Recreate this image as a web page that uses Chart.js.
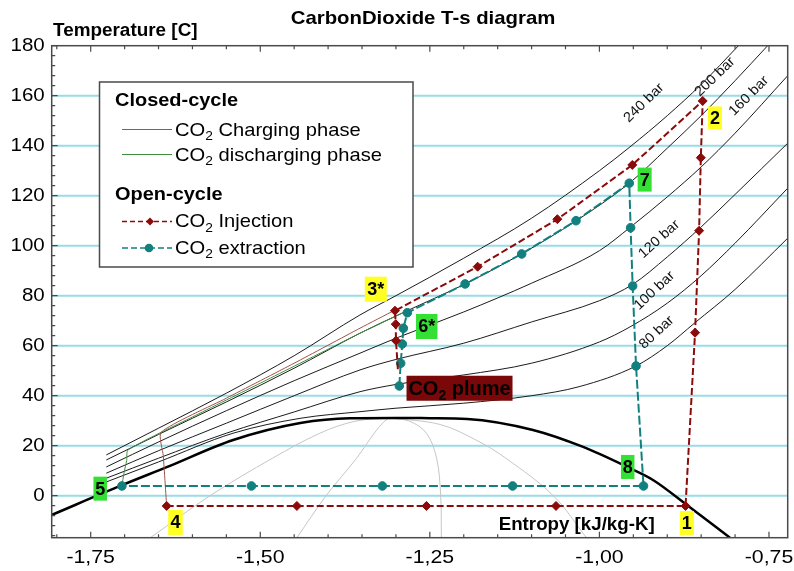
<!DOCTYPE html>
<html>
<head>
<meta charset="utf-8">
<title>CarbonDioxide T-s diagram</title>
<script src="https://cdn.jsdelivr.net/npm/chart.js@4.4.1/dist/chart.umd.min.js"></script>
<style>
  html, body { margin: 0; padding: 0; background: #ffffff; }
  canvas { display: block; }
</style>
</head>
<body>
<canvas id="ts" width="794" height="571" style="width:794px;height:571px"></canvas>
<script>
// ---- Axis ticks ----
const xTickValues = [-1.75, -1.50, -1.25, -1.00, -0.75];
const xTickLabels = ['-1,75', '-1,50', '-1,25', '-1,00', '-0,75'];
const yTickValues = [0, 20, 40, 60, 80, 100, 120, 140, 160, 180];
const yTickLabels = ['0', '20', '40', '60', '80', '100', '120', '140', '160', '180'];

// ---- Saturation dome (entropy kJ/kg-K, temperature C) ----
const domeS = [-1.8075, -1.704, -1.638, -1.540, -1.441, -1.368, -1.30, -1.25, -1.195, -1.098, -1.024, -0.959, -0.921, -0.871, -0.8075];
const domeT = [-7.7, 4.2, 11.4, 22.3, 29.1, 31.0, 31.1, 31.0, 30.7, 26.3, 19.5, 11.5, 6.3, -3.7, -16.8];

// ---- Constant quality lines inside the dome ----
const quality1S = [-1.662, -1.574, -1.482, -1.412, -1.36, -1.31];
const quality1T = [-16.8, 0, 15, 25, 29.8, 31.1];
const quality2S = [-1.446, -1.403, -1.358, -1.332, -1.318, -1.31];
const quality2T = [-16.8, 0, 15, 25, 29.5, 31.1];
const quality3S = [-1.233, -1.234, -1.240, -1.255, -1.280, -1.31];
const quality3T = [-16.8, 0, 15, 25, 29.8, 31.1];
const quality4S = [-1.019, -1.068, -1.138, -1.18, -1.235, -1.31];
const quality4T = [-16.8, 0, 15, 22, 28.5, 31.1];

// ---- Isobars ----
const isobarNames = ['240 bar', '200 bar', '160 bar', '120 bar', '100 bar', '80 bar'];
const isobar240S = [-1.727, -1.65, -1.55, -1.45, -1.353, -1.30, -1.20, -1.10, -1.00, -0.955, -0.90, -0.85, -0.795];
const isobar240T = [16.3, 27, 41, 56, 72.3, 80, 95, 111, 130, 139.5, 152, 164.5, 180];
const isobar200S = [-1.727, -1.65, -1.55, -1.45, -1.353, -1.288, -1.198, -1.115, -1.034, -0.956, -0.90, -0.85, -0.80, -0.752];
const isobar200T = [14.3, 24.5, 37.5, 51, 65, 73.4, 84.7, 96.7, 110, 125, 139, 152, 166, 180];
const isobar160S = [-1.727, -1.65, -1.55, -1.45, -1.353, -1.30, -1.20, -1.10, -1.00, -0.954, -0.90, -0.85, -0.80, -0.7224];
const isobar160T = [11.5, 21.5, 34, 46, 57, 63, 73.5, 85, 98, 107.5, 119.5, 131.5, 145, 168];
const isobar120S = [-1.727, -1.65, -1.55, -1.45, -1.353, -1.30, -1.20, -1.10, -1.00, -0.951, -0.90, -0.85, -0.80, -0.7224];
const isobar120T = [9, 18, 29, 40, 50.3, 54.5, 61, 69.5, 78, 84.5, 95.5, 107.5, 120.5, 141];
const isobar100S = [-1.727, -1.65, -1.55, -1.45, -1.353, -1.30, -1.25, -1.20, -1.10, -1.00, -0.955, -0.90, -0.85, -0.80, -0.7224];
const isobar100T = [7, 15, 25, 33.5, 41.6, 44.5, 46.5, 48.3, 53, 61.5, 67.5, 77, 88, 101, 123];
const isobar80S = [-1.727, -1.65, -1.54, -1.44, -1.353, -1.30, -1.20, -1.10, -1.03, -0.946, -0.90, -0.86, -0.80, -0.7224];
const isobar80T = [5.5, 13.5, 25, 31, 33.6, 35, 37, 40, 43.6, 51.9, 60, 69, 82.5, 103];

// ---- Closed cycle ----
const chargingS = [-1.638, -1.6405, -1.643, -1.646, -1.55, -1.45, -1.353, -1.301];
const chargingT = [-4.1, 6, 16, 25.4, 39, 53, 67, 74.3];
const dischargingS = [-1.704, -1.701, -1.697, -1.695, -1.60, -1.50, -1.40, -1.353, -1.288];
const dischargingT = [3.9, 9, 14, 18.3, 31.5, 45, 58.6, 65, 73.4];

// ---- Open cycle: 4 -> 1 -> 2 -> 3* -> plume ----
const injectionS = [-1.638, -1.446, -1.255, -1.064, -0.873, -0.859, -0.853, -0.8505, -0.8477, -0.9515, -1.062, -1.1795, -1.3014, -1.3003, -1.2999, -1.297];
const injectionT = [-4.1, -4.1, -4.1, -4.1, -4.1, 65.2, 106, 135.2, 157.9, 132.3, 110.6, 91.6, 74.0, 68.6, 62.0, 50];
// ---- Open cycle: plume -> 6* -> 7 -> 8 -> 5 ----
const extractionS = [-1.295, -1.293, -1.2906, -1.2891, -1.2832, -1.198, -1.1146, -1.0345, -0.956, -0.954, -0.951, -0.946, -0.935, -1.128, -1.320, -1.513, -1.704];
const extractionT = [43.9, 53, 60.7, 67, 73.2, 84.7, 96.7, 110, 125, 107.2, 83.9, 51.9, 3.9, 3.9, 3.9, 3.9, 3.9];

// ---- State point names ----
const stateNames = ['1', '2', '3*', '4', '5', '6*', '7', '8', 'CO₂ plume'];
const legendHeadings = ['Closed-cycle', 'Open-cycle'];
const legendNames = ['CO₂ Charging phase', 'CO₂ discharging phase', 'CO₂ Injection', 'CO₂ extraction'];

// ---- Styling ----
const RED = '#8b0a0a';
const TEAL = '#11807e';
const BROWN = '#a0524a';
const GREEN = '#3f8f3f';
const GRID = '#98dde5';
const FRAME = '#4a4a4a';
const YELLOW = '#ffff22';
const LIME = '#33e033';
const PLUME = '#7a0808';
const FONT = '"Liberation Sans", Arial, Helvetica, sans-serif';

const pts = (S, T) => S.map((s, i) => ({ x: s, y: T[i] }));

// where each state label sits: dataset point it refers to, offset of the box centre, box size, fill
const statePlacement = [
  { src: 'inj', i: 4, dx: 1.3, dy: 17, w: 14, h: 24, fill: YELLOW },
  { src: 'inj', i: 8, dx: 12.3, dy: 17, w: 14, h: 23, fill: YELLOW },
  { src: 'inj', i: 12, dx: -19.2, dy: -21.5, w: 22, h: 25, fill: YELLOW },
  { src: 'inj', i: 0, dx: 8.8, dy: 16.5, w: 14.5, h: 25, fill: YELLOW },
  { src: 'ext', i: 16, dx: -21.7, dy: 2.7, w: 13.5, h: 24, fill: LIME },
  { src: 'ext', i: 4, dx: 19.4, dy: 13.8, w: 21.5, h: 25, fill: LIME },
  { src: 'ext', i: 8, dx: 15.4, dy: -3.6, w: 14, h: 24, fill: LIME },
  { src: 'ext', i: 12, dx: -15.8, dy: -19, w: 13.5, h: 24, fill: LIME },
  { src: 'ext', i: 0, dx: 60.2, dy: 2.3, w: 106, h: 25, fill: PLUME, size: 20 }
];

// isobar captions, placed in data coordinates, rotated along the curves
const isobarCaptionAt = [
  { s: -0.9343, t: 157.1, rot: -44 },
  { s: -0.8296, t: 167.5, rot: -44 },
  { s: -0.7795, t: 159.9, rot: -45 },
  { s: -0.9119, t: 102.6, rot: -42 },
  { s: -0.9188, t: 82.0, rot: -43 },
  { s: -0.9156, t: 65.3, rot: -43 }
];

// text with optional horizontal stretch and CO₂ subscript handling
function drawText(ctx, str, x, y, o) {
  const font = sz => (o.bold ? 'bold ' : '') + sz + 'px ' + FONT;
  const size = o.size || 18;
  const subSize = Math.round(size * 0.68);
  const parts = str.split('₂');
  const segs = [];
  let w = 0;
  ctx.save();
  parts.forEach((p, k) => {
    ctx.font = font(size);
    const pw = ctx.measureText(p).width;
    segs.push({ t: p, sz: size, dy: 0, w: pw });
    w += pw;
    if (k < parts.length - 1) {
      ctx.font = font(subSize);
      const sw = ctx.measureText('2').width;
      segs.push({ t: '2', sz: subSize, dy: size * 0.32, w: sw });
      w += sw;
    }
  });
  ctx.translate(x, y);
  if (o.rot) ctx.rotate(o.rot * Math.PI / 180);
  ctx.scale(o.sx || 1, 1);
  let cx = o.align === 'center' ? -w / 2 : (o.align === 'right' ? -w : 0);
  ctx.fillStyle = o.color || '#000';
  ctx.textAlign = 'left';
  ctx.textBaseline = 'middle';
  for (const s of segs) {
    ctx.font = font(s.sz);
    ctx.fillText(s.t, cx, s.dy);
    cx += s.w;
  }
  ctx.restore();
}

function diamond(ctx, x, y, r, color) {
  ctx.save();
  ctx.fillStyle = color;
  ctx.beginPath();
  ctx.moveTo(x, y - r); ctx.lineTo(x + r, y); ctx.lineTo(x, y + r); ctx.lineTo(x - r, y);
  ctx.closePath(); ctx.fill();
  ctx.restore();
}

function dot(ctx, x, y, r, color) {
  ctx.save();
  ctx.fillStyle = color;
  ctx.beginPath(); ctx.arc(x, y, r, 0, Math.PI * 2); ctx.fill();
  ctx.restore();
}

function hline(ctx, x0, x1, y, color, width, dash) {
  ctx.save();
  ctx.strokeStyle = color; ctx.lineWidth = width; ctx.setLineDash(dash || []);
  ctx.beginPath(); ctx.moveTo(x0, y); ctx.lineTo(x1, y); ctx.stroke();
  ctx.restore();
}

const tsDecor = {
  id: 'tsDecor',
  beforeDatasetsDraw(chart) {
    const { ctx, chartArea: a, scales: { y } } = chart;
    for (const v of yTickValues) {
      if (v >= y.max) continue;
      hline(ctx, a.left, a.right, y.getPixelForValue(v), GRID, 2);
    }
  },
  afterDatasetsDraw(chart) {
    const { ctx, chartArea: a, scales: { x, y } } = chart;

    // isobar captions
    isobarNames.forEach((name, k) => {
      const c = isobarCaptionAt[k];
      drawText(ctx, name, x.getPixelForValue(c.s), y.getPixelForValue(c.t),
        { size: 14, sx: 1.05, align: 'center', rot: c.rot, color: '#111' });
    });

    // frame
    ctx.save();
    ctx.strokeStyle = FRAME;
    ctx.lineWidth = 1.5;
    ctx.strokeRect(a.left, a.top, a.right - a.left, a.bottom - a.top);

    // tick marks pointing into the plot
    ctx.lineWidth = 1.2;
    ctx.beginPath();
    for (let k = 0; k <= 21; k++) {
      const v = -1.80 + k * 0.05;
      if (v < x.min || v > x.max) continue;
      const px = x.getPixelForValue(v);
      const major = Math.abs(Math.round(v * 4) - v * 4) < 1e-6;
      const len = major ? 6 : 3.5;
      ctx.moveTo(px, a.bottom); ctx.lineTo(px, a.bottom - len);
      ctx.moveTo(px, a.top); ctx.lineTo(px, a.top + len);
    }
    for (let v = -16; v <= 180; v += 4) {
      const py = y.getPixelForValue(v);
      const len = v % 20 === 0 ? 6 : 3.5;
      ctx.moveTo(a.left, py); ctx.lineTo(a.left + len, py);
    }
    ctx.stroke();
    ctx.restore();

    // tick labels
    yTickValues.forEach((v, k) => {
      drawText(ctx, yTickLabels[k], a.left - 7, y.getPixelForValue(v), { size: 19, sx: 1.08, align: 'right' });
    });
    xTickValues.forEach((v, k) => {
      drawText(ctx, xTickLabels[k], x.getPixelForValue(v), a.bottom + 20.5, { size: 19, sx: 1.12, align: 'center' });
    });

    // titles
    drawText(ctx, 'CarbonDioxide T-s diagram', 423, 19, { size: 18.5, bold: true, sx: 1.1, align: 'center' });
    drawText(ctx, 'Temperature [C]', 53, 31.5, { size: 18, bold: true, sx: 1.05 });
    drawText(ctx, 'Entropy [kJ/kg-K]', a.left + 525, a.bottom - 12.7, { size: 18, bold: true, sx: 1.04, align: 'center' });

    // state labels
    statePlacement.forEach((p, k) => {
      const S = p.src === 'inj' ? injectionS : extractionS;
      const T = p.src === 'inj' ? injectionT : extractionT;
      const cx = x.getPixelForValue(S[p.i]) + p.dx;
      const cy = y.getPixelForValue(T[p.i]) + p.dy;
      ctx.save();
      ctx.fillStyle = p.fill;
      ctx.fillRect(cx - p.w / 2, cy - p.h / 2, p.w, p.h);
      ctx.restore();
      drawText(ctx, stateNames[k], cx, cy + 1, { size: p.size || 18, bold: true, align: 'center', color: '#000' });
    });

    // legend
    ctx.save();
    ctx.fillStyle = '#fff';
    ctx.fillRect(99.5, 82, 313.5, 185);
    ctx.strokeStyle = FRAME;
    ctx.lineWidth = 1.5;
    ctx.strokeRect(99.5, 82, 313.5, 185);
    ctx.restore();
    drawText(ctx, legendHeadings[0], 115, 101, { size: 19, bold: true, sx: 1.05 });
    hline(ctx, 122, 172, 129.5, BROWN, 1);
    drawText(ctx, legendNames[0], 175, 130.5, { size: 19, sx: 1.06 });
    hline(ctx, 122, 172, 154.5, GREEN, 1);
    drawText(ctx, legendNames[1], 175, 155.5, { size: 19, sx: 1.06 });
    drawText(ctx, legendHeadings[1], 115, 195, { size: 19, bold: true, sx: 1.05 });
    hline(ctx, 122, 172, 221.5, RED, 1.6, [5, 3]);
    diamond(ctx, 150, 221.5, 4, RED);
    drawText(ctx, legendNames[2], 175, 222, { size: 19, sx: 1.06 });
    hline(ctx, 122, 172, 248, TEAL, 1.6, [6, 3]);
    dot(ctx, 149, 248, 4.3, TEAL);
    drawText(ctx, legendNames[3], 175, 248.5, { size: 19, sx: 1.06 });
  }
};

const thin = (data, color, width) => ({
  data, borderColor: color, borderWidth: width, pointRadius: 0,
  cubicInterpolationMode: 'monotone', fill: false
});
const bent = (data, color, width) => ({
  data, borderColor: color, borderWidth: width, pointRadius: 0, tension: 0.35, fill: false
});

new Chart(document.getElementById('ts'), {
  type: 'line',
  data: {
    datasets: [
      {
        label: legendNames[2],
        data: pts(injectionS, injectionT),
        borderColor: RED, borderWidth: 2, borderDash: [7, 3], tension: 0,
        pointStyle: 'rectRot',
        pointRadius: c => (c.dataIndex === injectionS.length - 1 ? 0 : 4.5),
        pointBackgroundColor: RED, pointBorderColor: RED, pointBorderWidth: 1
      },
      {
        label: legendNames[3],
        data: pts(extractionS, extractionT),
        borderColor: TEAL, borderWidth: 2, borderDash: [9, 3], tension: 0,
        pointStyle: 'circle', pointRadius: 4.3,
        pointBackgroundColor: TEAL, pointBorderColor: TEAL, pointBorderWidth: 1
      },
      Object.assign(bent(pts(chargingS, chargingT), BROWN, 1), { label: legendNames[0], tension: 0.2 }),
      Object.assign(bent(pts(dischargingS, dischargingT), GREEN, 1), { label: legendNames[1], tension: 0.2 }),
      Object.assign(thin(pts(isobar240S, isobar240T), '#1c1c1c', 1), { label: isobarNames[0] }),
      Object.assign(thin(pts(isobar200S, isobar200T), '#1c1c1c', 1), { label: isobarNames[1] }),
      Object.assign(thin(pts(isobar160S, isobar160T), '#1c1c1c', 1), { label: isobarNames[2] }),
      Object.assign(thin(pts(isobar120S, isobar120T), '#1c1c1c', 1), { label: isobarNames[3] }),
      Object.assign(thin(pts(isobar100S, isobar100T), '#1c1c1c', 1), { label: isobarNames[4] }),
      Object.assign(thin(pts(isobar80S, isobar80T), '#1c1c1c', 1), { label: isobarNames[5] }),
      Object.assign(thin(pts(domeS, domeT), '#000000', 2.5), { label: 'saturation' }),
      Object.assign(bent(pts(quality1S, quality1T), '#c6c6c6', 1), { label: 'x1' }),
      Object.assign(bent(pts(quality2S, quality2T), '#c6c6c6', 1), { label: 'x2' }),
      Object.assign(bent(pts(quality3S, quality3T), '#c6c6c6', 1), { label: 'x3' }),
      Object.assign(bent(pts(quality4S, quality4T), '#c6c6c6', 1), { label: 'x4' })
    ]
  },
  options: {
    responsive: false,
    animation: false,
    devicePixelRatio: 1,
    layout: { padding: { left: 0, right: 6.3, top: 45.7, bottom: 0 } },
    scales: {
      x: {
        type: 'linear', min: -1.8075, max: -0.7224,
        ticks: { display: false }, grid: { display: false }, border: { display: false },
        afterFit: s => { s.height = 33.3; }
      },
      y: {
        type: 'linear', min: -16.8, max: 180,
        ticks: { display: false }, grid: { display: false }, border: { display: false },
        afterFit: s => { s.width = 51.7; }
      }
    },
    plugins: { legend: { display: false }, tooltip: { enabled: false } }
  },
  plugins: [tsDecor]
});
</script>
</body>
</html>
